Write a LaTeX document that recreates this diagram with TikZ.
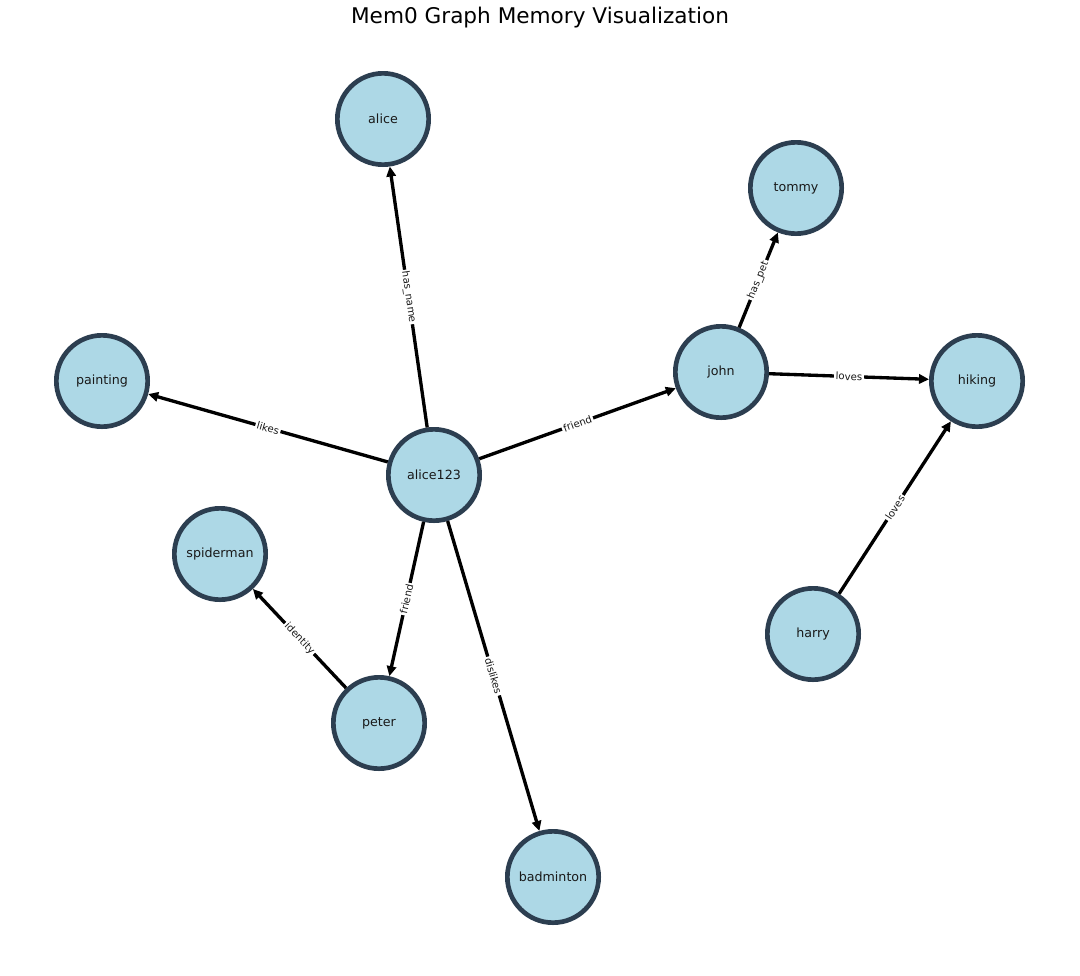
\documentclass[tikz,border=0pt]{standalone}
\usepackage{fontspec}
\setmainfont{DejaVu Sans}
\usetikzlibrary{arrows.meta}
\definecolor{nodefill}{HTML}{ADD8E6}
\definecolor{nodeborder}{HTML}{2C3E50}
\tikzset{
  ent/.style={circle, draw=nodeborder, fill=nodefill, line width=3.5pt,
    minimum size=68.5pt, inner sep=0pt, outer sep=1.75pt,
    font=\fontsize{9.5}{11}\selectfont, text=black!90},
  rel/.style={line width=2.5pt, -{Triangle[length=7.5pt,width=7pt]}},
  rlab/.style={midway, sloped, fill=white, inner sep=1.2pt,
    font=\fontsize{7.6}{9}\selectfont, text=black!90},
}
\begin{document}
\begin{tikzpicture}[x=0.75pt,y=-0.75pt]
\useasboundingbox[fill=white] (0,0) rectangle (1080,975);
\node[font=\fontsize{16.2}{19}\selectfont] (title) at (540,18) {Mem0 Graph Memory Visualization};

\node[ent] (alice) at (383,119) {alice};
\node[ent] (tommy) at (796,188) {tommy};
\node[ent] (painting) at (102,381) {painting};
\node[ent] (john) at (721,372) {john};
\node[ent] (hiking) at (977,381) {hiking};
\node[ent] (alice123) at (434,475) {alice123};
\node[ent] (spiderman) at (220,554) {spiderman};
\node[ent] (harry) at (813,634) {harry};
\node[ent] (peter) at (379,723) {peter};
\node[ent] (badminton) at (553,877) {badminton};

\draw[rel] (alice123) -- node[rlab] {has\_name} (alice);
\draw[rel] (alice123) -- node[rlab] {likes} (painting);
\draw[rel] (alice123) -- node[rlab] {friend} (john);
\draw[rel] (alice123) -- node[rlab] {friend} (peter);
\draw[rel] (alice123) -- node[rlab] {dislikes} (badminton);
\draw[rel] (john) -- node[rlab] {has\_pet} (tommy);
\draw[rel] (john) -- node[rlab] {loves} (hiking);
\draw[rel] (harry) -- node[rlab] {loves} (hiking);
\draw[rel] (peter) -- node[rlab] {identity} (spiderman);
\end{tikzpicture}
\end{document}
